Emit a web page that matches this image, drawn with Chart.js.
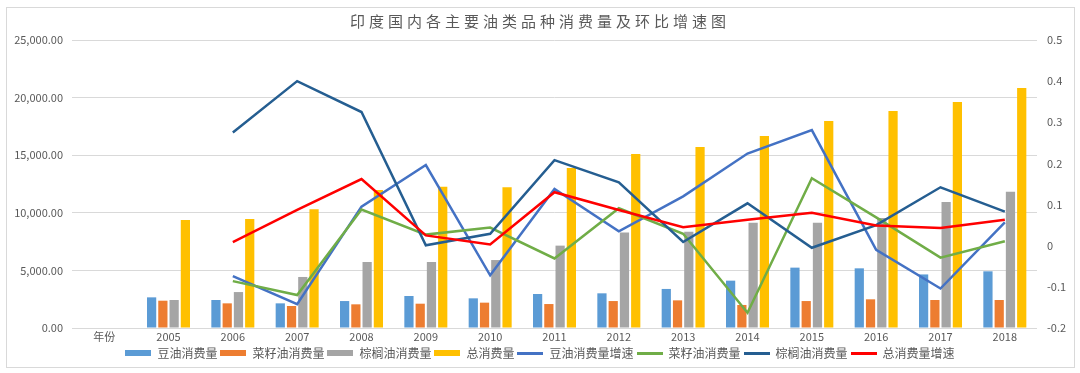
<!DOCTYPE html>
<html>
<head>
<meta charset="utf-8">
<script src="https://cdn.jsdelivr.net/npm/chart.js@4"></script>
<style>
  html, body { margin: 0; padding: 0; background: #fff; }
  #wrap { position: relative; width: 1080px; height: 373px; }
</style>
</head>
<body>
<div id="wrap"><canvas id="oil" width="1080" height="373"></canvas></div>
<script>
const years = ['年份', '2005', '2006', '2007', '2008', '2009', '2010', '2011', '2012', '2013', '2014', '2015', '2016', '2017', '2018'];

// consumption, left axis
const soyUse   = [null, 2660, 2430, 2140, 2340, 2780, 2575, 2950, 3010, 3390, 4110, 5240, 5180, 4650, 4920];
const rapeUse  = [null, 2370, 2140, 1910, 2055, 2110, 2200, 2080, 2340, 2400, 2000, 2340, 2490, 2430, 2430];
const palmUse  = [null, 2430, 3120, 4430, 5730, 5730, 5900, 7150, 8280, 8360, 9140, 9140, 9550, 10930, 11830];
const totalUse = [null, 9375, 9460, 10300, 11980, 12270, 12220, 13890, 15100, 15720, 16670, 17970, 18840, 19620, 20830];

// growth rates, right axis
const soyGrowth   = [null, null, -0.074, -0.142, 0.095, 0.196, -0.072, 0.138, 0.035, 0.12, 0.224, 0.281, -0.01, -0.104, 0.057];
const rapeGrowth  = [null, null, -0.086, -0.12, 0.088, 0.027, 0.044, -0.031, 0.091, 0.029, -0.163, 0.164, 0.069, -0.029, 0.011];
const palmGrowth  = [null, null, 0.275, 0.40, 0.325, 0.001, 0.029, 0.208, 0.154, 0.009, 0.103, -0.005, 0.05, 0.142, 0.083];
const totalGrowth = [null, null, 0.009, 0.087, 0.162, 0.025, 0.003, 0.13, 0.087, 0.045, 0.063, 0.08, 0.049, 0.043, 0.063];

const font = '"Noto Sans CJK SC", "Noto Sans", sans-serif';
const grey = '#595959';

// legend swatches
function swatch(color, h) {
    const c = document.createElement('canvas');
    c.width = 26;
    c.height = h;
    const g = c.getContext('2d');
    g.fillStyle = color;
    g.fillRect(0, 0, 26, h);
    return c;
}

function bar(label, data, color) {
    return {
        type: 'bar', label: label, data: data, yAxisID: 'y', order: 10,
        backgroundColor: color, borderWidth: 0,
        barPercentage: 0.82, categoryPercentage: 0.7,
        pointStyle: swatch(color, 6)
    };
}

function line(label, data, color, order) {
    return {
        type: 'line', label: label, data: data, yAxisID: 'y1', order: order,
        borderColor: color, backgroundColor: color, borderWidth: 2.5,
        pointRadius: 0, tension: 0, spanGaps: false,
        pointStyle: swatch(color, 3)
    };
}

const frame = {
    id: 'frame',
    beforeDraw(chart) {
        const c = chart.ctx;
        c.save();
        c.fillStyle = '#fff';
        c.fillRect(0, 0, chart.width, chart.height);
        c.strokeStyle = '#d9d9d9';
        c.lineWidth = 1;
        c.strokeRect(6.5, 7.5, 1068, 360);
        c.restore();
        // wider spacing in the title, like the original
        const t = chart.titleBlock;
        if (t && !t._spaced) {
            const d = t.draw.bind(t);
            t.draw = function () {
                chart.ctx.save();
                chart.ctx.letterSpacing = '4px';
                d();
                chart.ctx.restore();
            };
            t._spaced = true;
        }
    }
};

new Chart(document.getElementById('oil'), {
    data: {
        labels: years,
        datasets: [
            bar('豆油消费量', soyUse, '#5B9BD5'),
            bar('菜籽油消费量', rapeUse, '#ED7D31'),
            bar('棕榈油消费量', palmUse, '#A5A5A5'),
            bar('总消费量', totalUse, '#FFC000'),
            line('豆油消费量增速', soyGrowth, '#4472C4', 4),
            line('菜籽油消费量', rapeGrowth, '#70AD47', 3),
            line('棕榈油消费量', palmGrowth, '#255E91', 2),
            line('总消费量增速', totalGrowth, '#FF0000', 1)
        ]
    },
    options: {
        responsive: false,
        animation: false,
        devicePixelRatio: 1,
        layout: { padding: { left: 0, right: 0, top: 0, bottom: 4 } },
        plugins: {
            title: {
                display: true,
                text: '印度国内各主要油类品种消费量及环比增速图',
                color: grey,
                font: { family: font, size: 15, weight: 'normal' },
                padding: { top: 12, bottom: 10 }
            },
            legend: {
                position: 'bottom',
                labels: {
                    usePointStyle: true,
                    pointStyleWidth: 26,
                    boxHeight: 12,
                    padding: 3,
                    color: grey,
                    font: { family: font, size: 12 },
                    sort: (a, b) => a.datasetIndex - b.datasetIndex
                }
            },
            tooltip: { enabled: false }
        },
        scales: {
            x: {
                grid: { display: false, drawTicks: false },
                border: { display: false },
                ticks: { color: grey, font: { family: font, size: 11 }, padding: 2, maxRotation: 0, autoSkip: false },
                afterFit(s) { s.height = 16; }
            },
            y: {
                position: 'left',
                min: 0,
                max: 25000,
                ticks: {
                    stepSize: 5000,
                    color: grey,
                    padding: 9,
                    font: { family: font, size: 11 },
                    callback: v => v.toLocaleString('en-US', { minimumFractionDigits: 2, maximumFractionDigits: 2 })
                },
                grid: { color: '#d9d9d9', drawTicks: false },
                border: { display: false },
                afterFit(s) { s.width = 72; }
            },
            y1: {
                position: 'right',
                min: -0.2,
                max: 0.5,
                ticks: {
                    stepSize: 0.1,
                    color: grey,
                    padding: 10,
                    font: { family: font, size: 11 },
                    callback: v => String(Math.round(v * 10) / 10)
                },
                grid: { display: false, drawTicks: false },
                border: { display: false },
                afterFit(s) { s.width = 43; }
            }
        }
    },
    plugins: [frame]
});
</script>
</body>
</html>
